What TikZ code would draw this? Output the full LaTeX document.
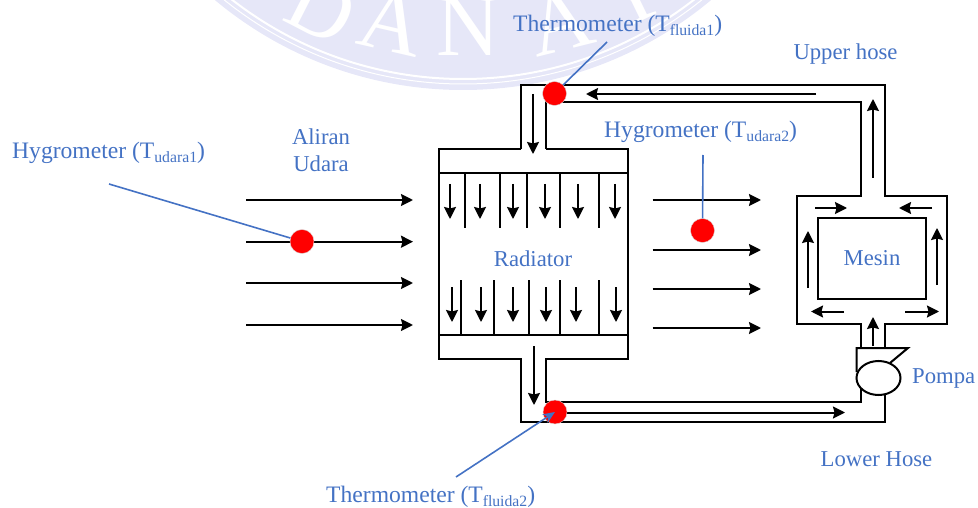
\documentclass[tikz,border=0pt]{standalone}
\usepackage{fontspec}
\setmainfont{Liberation Serif}
\usepackage{xcolor}
\usetikzlibrary{arrows.meta, positioning, shapes.geometric}
\definecolor{labelblue}{HTML}{4472C4}
\definecolor{sensorred}{HTML}{FF0000}
\definecolor{markpale}{HTML}{E6E7F8}
\newcommand{\subtext}[1]{\raisebox{-3.5pt}{\fontsize{15.7}{16}\selectfont #1}}

\begin{document}
\begin{tikzpicture}[
      x=1pt, y=-1pt, >={Stealth[length=12pt, width=12pt, inset=1.5pt]},
      pipe/.style={line width=2pt, line join=miter},
      flow/.style={->, line width=2pt},
      note/.style={text=labelblue, font=\fontsize{22.7}{27}\selectfont,
                   inner sep=0pt, align=center},
      probe/.style={note, anchor=west, font=\fontsize{23.6}{27}\selectfont},
      sensor/.style={circle, fill=sensorred, draw=black!15, line width=.4pt,
                     minimum size=24pt, inner sep=0pt},
      leader/.style={draw=labelblue, line width=1.6pt},
      markletter/.style={text=white, font=\fontsize{88}{88}\selectfont},
    ]
    \useasboundingbox (0,0) rectangle (978,508);

    % watermark
    \begin{scope}
      \clip (0,0) rectangle (978,508);
      \fill[markpale] (463,-297) circle (387);
      \draw[white, line width=2pt] (463,-297) circle (376);
      \draw[white, line width=1pt] (463,-297) circle (381);
      \node[markletter, rotate=-27] (markd) at (322,8) {D};
      \node[markletter, rotate=-13] (marka) at (392,22) {A};
      \node[markletter] (markn) at (468,27) {N};
      \node[markletter, rotate=14] (markb) at (560,22) {A};
      \node[markletter, rotate=26] (marky) at (632,-6) {Y};
    \end{scope}

    % radiator
    \draw[pipe] (439,173) -- (628,173);
    \draw[pipe] (439,335) -- (628,335);
    \draw[pipe] (521,149) -- (521,85) -- (885,85) -- (885,196) -- (947,196)
                -- (947,324) -- (885,324) -- (885,348);
    \draw[pipe] (546,149) -- (546,102.5) -- (860.5,102.5) -- (860.5,196) -- (797,196)
                -- (797,324) -- (860.5,324) -- (860.5,348);
    \draw[pipe] (521,149) -- (439,149) -- (439,358.5) -- (521,358.5) -- (521,422)
                -- (885,422) -- (885,395);
    \draw[pipe] (546,149) -- (628,149) -- (628,358.5) -- (546,358.5) -- (546,401.5)
                -- (860.5,401.5) -- (860.5,388);
    \foreach \x in {464.5,499.5,527,560,598.5}
      \draw[pipe] (\x,173) -- (\x,228);
    \foreach \x in {461,494,529,560,598.5}
      \draw[pipe] (\x,280) -- (\x,335);

    % engine and pump
    \node[note, draw=black, line width=2pt, minimum width=108pt,
          minimum height=81pt] (mesin) at (872,258.5) {Mesin};
    \draw[pipe] (856.5,372) -- (856.5,348) -- (908,348) -- (890,363);
    \node[draw, ellipse, line width=2pt, fill=white, minimum width=44pt,
          minimum height=34pt, inner sep=0pt] (pump) at (878.5,378) {};

    % flow
    \foreach \x in {450,480,513,545,578,615}
      \draw[flow] (\x,184) -- (\x,219);
    \foreach \x in {452,481,513,546,576,616}
      \draw[flow] (\x,287) -- (\x,322);
    \foreach \y in {200,241.7,283,325}
      \draw[flow] (246,\y) -- (413,\y);
    \foreach \y in {200,250,289,328}
      \draw[flow] (652.5,\y) -- (761,\y);
    \draw[flow] (816,94) -- (586,94);
    \draw[flow] (533,94) -- (533,154);
    \draw[flow] (534,346) -- (534,405);
    \draw[flow] (555,412.5) -- (845,412.5);
    \draw[flow] (873,178) -- (873,99);
    \draw[flow] (815,208) -- (847,208);
    \draw[flow] (932,208) -- (899,208);
    \draw[flow] (808,288) -- (808,231);
    \draw[flow] (937,285) -- (937,228);
    \draw[flow] (844,311.5) -- (811,311.5);
    \draw[flow] (905,311.5) -- (939,311.5);
    \draw[flow] (873,346) -- (873,317);

    % sensors
    \node[sensor] (udarain) at (302,241.5) {};
    \node[sensor] (udaraout) at (702.5,230.5) {};
    \node[sensor] (fluidtop) at (554.5,93.5) {};
    \node[sensor] (fluidbot) at (555,412) {};

    % labels
    \node[probe] (thermotop) at (513,26) {Thermometer (T\subtext{fluida1})};
    \node[note] (upper) at (845.5,54.5) {Upper hose};
    \node[probe] (hygroout) at (604,132) {Hygrometer (T\subtext{udara2})};
    \node[probe] (hygroin) at (12,153) {Hygrometer (T\subtext{udara1})};
    \node[note] (aliran) at (321,150) {Aliran\\Udara};
    \node[note] (radiator) at (533,259) {Radiator};
    \node[note, anchor=west] (pompa) at (912,378) {Pompa};
    \node[note] (lower) at (876.5,459) {Lower Hose};
    \node[probe] (thermobot) at (326,497) {Thermometer (T\subtext{fluida2})};

    \coordinate (hygroinfoot) at (109,184);
    \coordinate (hygrooutfoot) at (703,155);
    \coordinate (thermotopfoot) at (607,42);
    \coordinate (thermobotfoot) at (456,477);
    \draw[leader] (hygroinfoot) -- (udarain);
    \draw[leader] (hygrooutfoot) -- (udaraout);
    \draw[leader] (thermotopfoot) -- (fluidtop);
    \draw[leader, -{Stealth[length=12pt, width=10pt]}] (thermobotfoot) -- (fluidbot.center);
  \end{tikzpicture}
\end{document}
